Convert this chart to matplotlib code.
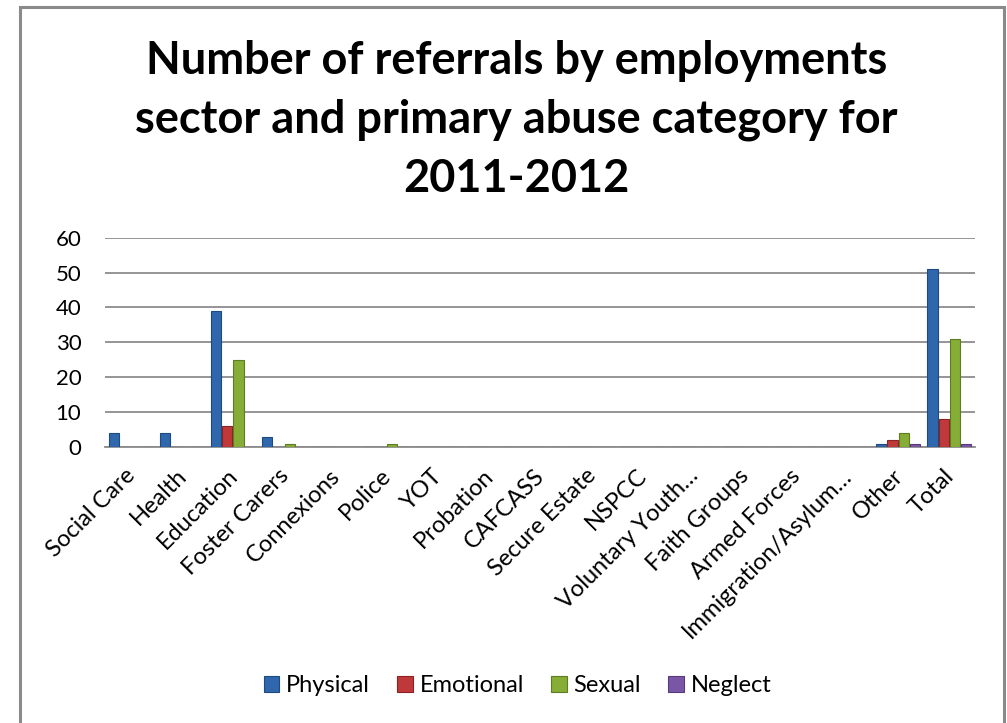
import matplotlib
matplotlib.use("Agg")
import matplotlib.pyplot as plt
from matplotlib.patches import Rectangle
import numpy as np

categories = ["Social Care", "Health", "Education", "Foster Carers", "Connexions",
              "Police", "YOT", "Probation", "CAFCASS", "Secure Estate", "NSPCC",
              "Voluntary Youth…", "Faith Groups", "Armed Forces",
              "Immigration/Asylum…", "Other", "Total"]
physical  = [4, 4, 39, 3, 0, 0, 0, 0, 0, 0, 0, 0, 0, 0, 0, 1, 51]
emotional = [0, 0, 6, 0, 0, 0, 0, 0, 0, 0, 0, 0, 0, 0, 0, 2, 8]
sexual    = [0, 0, 25, 1, 0, 1, 0, 0, 0, 0, 0, 0, 0, 0, 0, 4, 31]
neglect   = [0, 0, 0, 0, 0, 0, 0, 0, 0, 0, 0, 0, 0, 0, 0, 1, 1]
series_names = ["Physical", "Emotional", "Sexual", "Neglect"]
yticks = [0, 10, 20, 30, 40, 50, 60]
title = "Number of referrals by employments\nsector and primary abuse category for\n2011-2012"

colors = ["#2f67ad", "#c0393a", "#86ad35", "#7a56a6"]
edges = ["#1f4a80", "#8a2322", "#5e7d22", "#563a7a"]

font = ["Lato", "DejaVu Sans"]
plt.rcParams["font.family"] = font

fig = plt.figure(figsize=(10.07, 7.23), dpi=100)
fig.patches.append(Rectangle((20/1007, -0.01), (1004-20)/1007, 1.01 - 7/723,
                             transform=fig.transFigure, fill=False,
                             edgecolor="#8a8a8a", linewidth=2.2, zorder=10))

ax = fig.add_axes([105/1007, 1-447/723, (975-105)/1007, (447-237.7)/723])
x = np.arange(len(categories))
data = [physical, emotional, sexual, neglect]
w = 0.22
for i, (vals, c, e, n) in enumerate(zip(data, colors, edges, series_names)):
    ax.bar(x - 1.5*w + i*w, vals, width=w*0.92, color=c, edgecolor=e,
           linewidth=0.8, label=n, zorder=3)

ax.set_xlim(-0.5, len(categories) - 0.5)
ax.set_ylim(0, 60)
ax.set_yticks(yticks)
ax.set_yticklabels([str(v) for v in yticks], fontsize=16)
ax.yaxis.grid(True, color="#8c8c8c", linewidth=1.3, zorder=0)
ax.set_axisbelow(True)
for s in ["top", "right", "left"]:
    ax.spines[s].set_visible(False)
ax.spines["bottom"].set_color("#8c8c8c")
ax.spines["bottom"].set_linewidth(1.3)
ax.tick_params(axis="both", length=0)
ax.tick_params(axis="y", pad=17)
ax.set_xticks(x - 0.12)
ax.set_xticklabels(categories, rotation=45, ha="right", rotation_mode="anchor",
                   fontsize=17)
ax.tick_params(axis="x", pad=13)

fig.text(0.513, 1 - 120/723, title, ha="center", va="center", fontsize=32.5,
         fontweight="bold", linespacing=1.5)

leg = fig.legend(loc="center", bbox_to_anchor=(0.514, 1 - 686/723), ncol=4,
                 frameon=False, fontsize=17, handlelength=0.65, handleheight=0.65,
                 handletextpad=0.3, columnspacing=1.15)

fig.savefig("out.png", dpi=100)
